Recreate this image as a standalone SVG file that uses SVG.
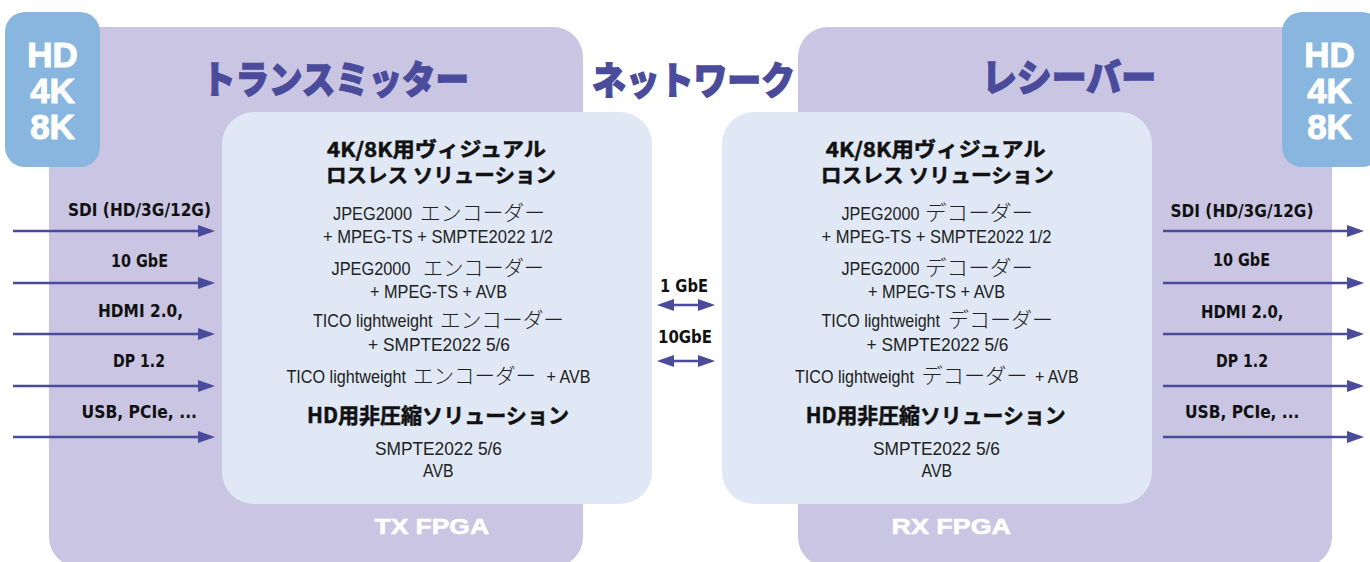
<svg xmlns="http://www.w3.org/2000/svg" width="1370" height="562" viewBox="0 0 1370 562">
<defs>
<style>
.purple{fill:#c9c5e2}
.light{fill:#dfe8f4}
.hd{fill:#88b6de}
.hdt{font-family:"Liberation Sans",Arial,sans-serif;font-weight:bold;font-size:35px;fill:#fff;stroke:#fff;stroke-width:1;text-anchor:middle}
.title{font-family:"Noto Sans CJK JP",sans-serif;font-weight:900;font-size:38px;fill:#4b4b9c;stroke:#4b4b9c;stroke-width:1.3}
.lbl{font-family:"DejaVu Sans",sans-serif;font-weight:bold;font-size:18.5px;fill:#111}
.h{font-family:"Noto Sans CJK JP",sans-serif;font-weight:bold;font-size:20px;fill:#111;stroke:#111;stroke-width:0.5}
.n{font-family:"Liberation Sans",Arial,sans-serif;font-size:19px;fill:#222}
.k{font-family:"Noto Sans CJK JP",sans-serif;font-weight:300;font-size:21px;fill:#222}
.fpga{font-family:"Liberation Sans",Arial,sans-serif;font-weight:bold;font-size:21.5px;fill:#fff;stroke:#fff;stroke-width:0.6}
.conn line{stroke:#4b4b9c;stroke-width:2.5}
</style>
<marker id="ah" markerUnits="userSpaceOnUse" viewBox="0 0 17 12" refX="13" refY="6" markerWidth="17" markerHeight="12" orient="auto-start-reverse">
<path d="M0,0 L17,6 L0,12 Z" fill="#4b4b9c"/>
</marker>
</defs>

<g id="tx">
<rect class="purple" x="49" y="27" width="534" height="540" rx="30"/>
<text class="title" x="202" y="93" textLength="267" lengthAdjust="spacingAndGlyphs">トランスミッター</text>
<text class="fpga" x="374.5" y="533.5" textLength="114.5" lengthAdjust="spacingAndGlyphs">TX FPGA</text>
</g>
<g id="rx">
<rect class="purple" x="798" y="27" width="534" height="540" rx="30"/>
<text class="title" x="982" y="91" textLength="174" lengthAdjust="spacingAndGlyphs">レシーバー</text>
<text class="fpga" x="891.5" y="533.5" textLength="119.5" lengthAdjust="spacingAndGlyphs">RX FPGA</text>
</g>

<g id="hd-left">
<rect class="hd" x="5" y="12" width="95" height="155" rx="20"/>
<text class="hdt" x="52.5" y="67">HD</text>
<text class="hdt" x="52.5" y="103">4K</text>
<text class="hdt" x="52.5" y="139">8K</text>
</g>
<g id="hd-right">
<rect class="hd" x="1282" y="12" width="100" height="155" rx="20"/>
<text class="hdt" x="1329.5" y="67">HD</text>
<text class="hdt" x="1329.5" y="103">4K</text>
<text class="hdt" x="1329.5" y="139">8K</text>
</g>

<g id="network">
<text class="title" x="592" y="94" textLength="203" lengthAdjust="spacingAndGlyphs">ネットワーク</text>
<text class="lbl" x="660" y="292" textLength="48" lengthAdjust="spacingAndGlyphs">1 GbE</text>
<text class="lbl" x="658" y="343" textLength="54" lengthAdjust="spacingAndGlyphs">10GbE</text>
</g>

<g id="tx-core">
<rect class="light" x="222" y="112" width="430" height="392" rx="32"/>
<text class="h" x="327" y="157" textLength="219" lengthAdjust="spacingAndGlyphs">4K/8K用ヴィジュアル</text>
<text class="h" x="326" y="183" textLength="230" lengthAdjust="spacingAndGlyphs">ロスレス ソリューション</text>
<text class="n" x="333" y="220" textLength="79" lengthAdjust="spacingAndGlyphs">JPEG2000</text>
<text class="k" x="420" y="220" textLength="125" lengthAdjust="spacingAndGlyphs">エンコーダー</text>
<text class="n" x="323" y="243" textLength="230" lengthAdjust="spacingAndGlyphs">+ MPEG-TS + SMPTE2022 1/2</text>
<text class="n" x="331.5" y="275" textLength="79" lengthAdjust="spacingAndGlyphs">JPEG2000</text>
<text class="k" x="423" y="275" textLength="121" lengthAdjust="spacingAndGlyphs">エンコーダー</text>
<text class="n" x="370" y="298" textLength="137" lengthAdjust="spacingAndGlyphs">+ MPEG-TS + AVB</text>
<text class="n" x="313" y="327" textLength="119.5" lengthAdjust="spacingAndGlyphs">TICO lightweight</text>
<text class="k" x="440" y="327" textLength="124" lengthAdjust="spacingAndGlyphs">エンコーダー</text>
<text class="n" x="368" y="351" textLength="142" lengthAdjust="spacingAndGlyphs">+ SMPTE2022 5/6</text>
<text class="n" x="286.5" y="383" textLength="119.5" lengthAdjust="spacingAndGlyphs">TICO lightweight</text>
<text class="k" x="413" y="383" textLength="123" lengthAdjust="spacingAndGlyphs">エンコーダー</text>
<text class="n" x="546.5" y="383" textLength="44" lengthAdjust="spacingAndGlyphs">+ AVB</text>
<text class="h" x="307" y="423" textLength="262" lengthAdjust="spacingAndGlyphs" style="font-size:21px">HD用非圧縮ソリューション</text>
<text class="n" x="375" y="455" textLength="127" lengthAdjust="spacingAndGlyphs">SMPTE2022 5/6</text>
<text class="n" x="423" y="477" textLength="30.5" lengthAdjust="spacingAndGlyphs">AVB</text>
</g>

<g id="rx-core">
<rect class="light" x="722" y="112" width="430" height="392" rx="32"/>
<text class="h" x="825.7" y="157" textLength="220" lengthAdjust="spacingAndGlyphs">4K/8K用ヴィジュアル</text>
<text class="h" x="820.7" y="183" textLength="233" lengthAdjust="spacingAndGlyphs">ロスレス ソリューション</text>
<text class="n" x="841.5" y="220" textLength="78" lengthAdjust="spacingAndGlyphs">JPEG2000</text>
<text class="k" x="925" y="220" textLength="108" lengthAdjust="spacingAndGlyphs">デコーダー</text>
<text class="n" x="821.5" y="243" textLength="230" lengthAdjust="spacingAndGlyphs">+ MPEG-TS + SMPTE2022 1/2</text>
<text class="n" x="841.5" y="275" textLength="78" lengthAdjust="spacingAndGlyphs">JPEG2000</text>
<text class="k" x="925" y="275" textLength="108" lengthAdjust="spacingAndGlyphs">デコーダー</text>
<text class="n" x="868" y="298" textLength="137" lengthAdjust="spacingAndGlyphs">+ MPEG-TS + AVB</text>
<text class="n" x="821.5" y="327" textLength="118.5" lengthAdjust="spacingAndGlyphs">TICO lightweight</text>
<text class="k" x="948" y="327" textLength="105" lengthAdjust="spacingAndGlyphs">デコーダー</text>
<text class="n" x="866.5" y="351" textLength="142" lengthAdjust="spacingAndGlyphs">+ SMPTE2022 5/6</text>
<text class="n" x="795" y="383" textLength="119" lengthAdjust="spacingAndGlyphs">TICO lightweight</text>
<text class="k" x="921.5" y="383" textLength="106" lengthAdjust="spacingAndGlyphs">デコーダー</text>
<text class="n" x="1035" y="383" textLength="43.5" lengthAdjust="spacingAndGlyphs">+ AVB</text>
<text class="h" x="805.7" y="423" textLength="260" lengthAdjust="spacingAndGlyphs" style="font-size:21px">HD用非圧縮ソリューション</text>
<text class="n" x="873" y="455" textLength="127" lengthAdjust="spacingAndGlyphs">SMPTE2022 5/6</text>
<text class="n" x="921.5" y="477" textLength="30.5" lengthAdjust="spacingAndGlyphs">AVB</text>
</g>

<g id="labels-in">
<text class="lbl" x="68" y="216" textLength="143" lengthAdjust="spacingAndGlyphs">SDI (HD/3G/12G)</text>
<text class="lbl" x="111" y="266.5" textLength="57" lengthAdjust="spacingAndGlyphs">10 GbE</text>
<text class="lbl" x="98" y="317" textLength="85" lengthAdjust="spacingAndGlyphs">HDMI 2.0,</text>
<text class="lbl" x="113" y="367" textLength="52" lengthAdjust="spacingAndGlyphs">DP 1.2</text>
<text class="lbl" x="81.5" y="418" textLength="115.5" lengthAdjust="spacingAndGlyphs">USB, PCIe, ...</text>
</g>
<g id="labels-out">
<text class="lbl" x="1170.5" y="216.5" textLength="143" lengthAdjust="spacingAndGlyphs">SDI (HD/3G/12G)</text>
<text class="lbl" x="1213" y="266" textLength="57" lengthAdjust="spacingAndGlyphs">10 GbE</text>
<text class="lbl" x="1201" y="318" textLength="82.5" lengthAdjust="spacingAndGlyphs">HDMI 2.0,</text>
<text class="lbl" x="1216" y="366.5" textLength="52" lengthAdjust="spacingAndGlyphs">DP 1.2</text>
<text class="lbl" x="1185" y="418" textLength="114.5" lengthAdjust="spacingAndGlyphs">USB, PCIe, ...</text>
</g>

<g id="connectors" class="conn">
<line x1="13" y1="231" x2="211" y2="231" marker-end="url(#ah)"/>
<line x1="13" y1="283" x2="211" y2="283" marker-end="url(#ah)"/>
<line x1="13" y1="334" x2="211" y2="334" marker-end="url(#ah)"/>
<line x1="13" y1="386" x2="211" y2="386" marker-end="url(#ah)"/>
<line x1="13" y1="437" x2="211" y2="437" marker-end="url(#ah)"/>
<line x1="1163" y1="231" x2="1360" y2="231" marker-end="url(#ah)"/>
<line x1="1163" y1="283" x2="1360" y2="283" marker-end="url(#ah)"/>
<line x1="1163" y1="334" x2="1360" y2="334" marker-end="url(#ah)"/>
<line x1="1163" y1="386" x2="1360" y2="386" marker-end="url(#ah)"/>
<line x1="1163" y1="437" x2="1360" y2="437" marker-end="url(#ah)"/>
<line x1="661" y1="305" x2="711" y2="305" marker-start="url(#ah)" marker-end="url(#ah)"/>
<line x1="661" y1="361" x2="711" y2="361" marker-start="url(#ah)" marker-end="url(#ah)"/>
</g>
</svg>
